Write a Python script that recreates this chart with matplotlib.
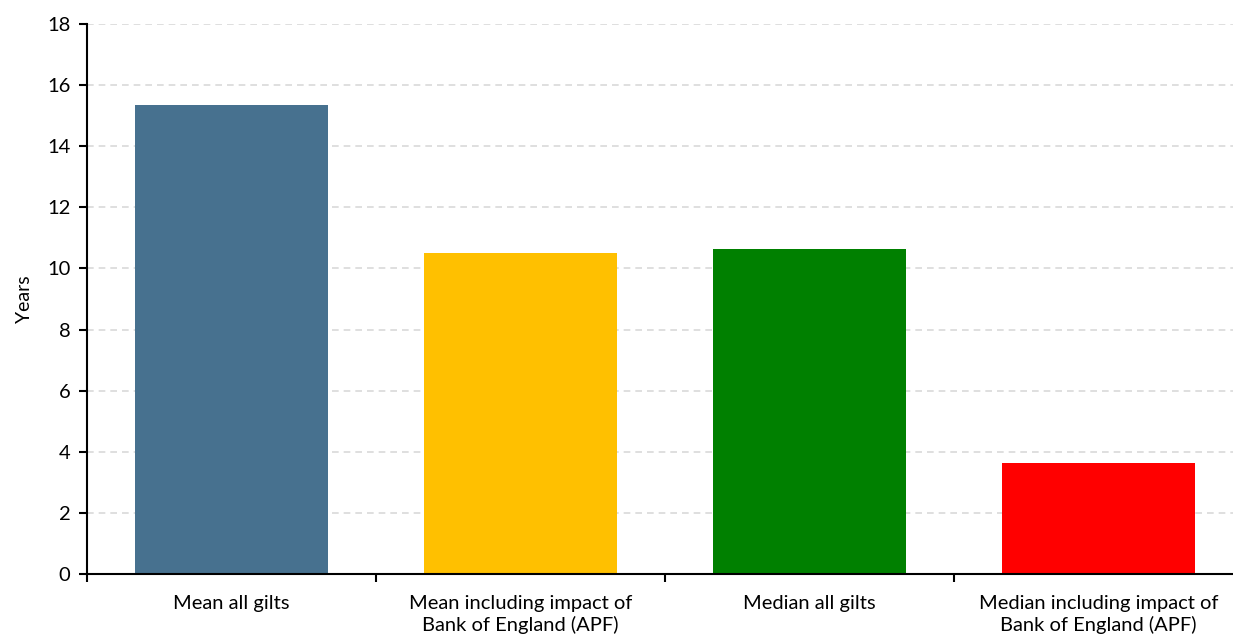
import numpy as np
import matplotlib.pyplot as plt

# data
categories = ["Mean all gilts",
              "Mean including impact of\nBank of England (APF)",
              "Median all gilts",
              "Median including impact of\nBank of England (APF)"]
values = [15.35, 10.5, 10.63, 3.63]
colors = ["#47718F", "#FFC000", "#008000", "#FF0000"]
y_ticks = [0, 2, 4, 6, 8, 10, 12, 14, 16, 18]

plt.rcParams['font.family'] = ['Lato', 'DejaVu Sans']

fig = plt.figure(figsize=(12.33, 6.38), dpi=100)
ax = fig.add_axes([87 / 1233, 1 - 574 / 638, 4 * 289 / 1233, 550 / 638])

x = np.arange(len(categories))
ax.bar(x, values, width=0.67, color=colors, zorder=3)

ax.set_xlim(-0.5, 3.5)
ax.set_ylim(0, 18)
ax.set_yticks(y_ticks)
ax.tick_params(axis='y', labelsize=14.5, length=6, width=1.5, direction='out', pad=6)

# category labels at the centres, tick marks at the boundaries
ax.set_xticks(x)
ax.set_xticklabels(categories, fontsize=14.5, linespacing=1.3)
ax.tick_params(axis='x', which='major', length=0, pad=15)
ax.set_xticks(np.arange(-0.5, 3.6, 1), minor=True)
ax.tick_params(axis='x', which='minor', length=6, width=1.5, direction='out')

ax.set_ylabel("Years", fontsize=14, labelpad=10)

ax.grid(axis='y', color='#D9D9D9', linestyle=(0, (4, 3)), linewidth=1.2, zorder=0)
for s in ['top', 'right']:
    ax.spines[s].set_visible(False)
for s in ['left', 'bottom']:
    ax.spines[s].set_linewidth(1.5)
    ax.spines[s].set_zorder(4)

fig.savefig("out.png", dpi=100)
